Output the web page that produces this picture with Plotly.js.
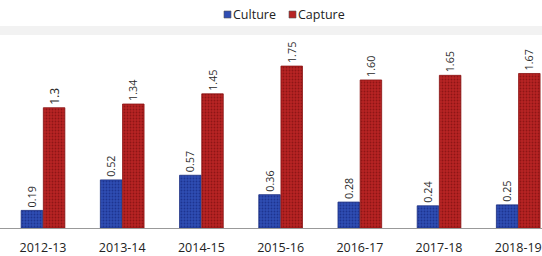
<!DOCTYPE html>
<html>
<head>
<meta charset="utf-8">
<script src="https://cdn.plot.ly/plotly-3.0.1.min.js"></script>
<style>html,body{margin:0;padding:0;background:#fff;}#chart{width:542px;height:256px;}</style>
</head>
<body>
<div id="chart"></div>
<script>
const years = ["2012-13","2013-14","2014-15","2015-16","2016-17","2017-18","2018-19"];
const culture = [0.19,0.52,0.57,0.36,0.28,0.24,0.25];
const capture = [1.3,1.34,1.45,1.75,1.60,1.65,1.67];
const cultureLabels = ["0.19","0.52","0.57","0.36","0.28","0.24","0.25"];
const captureLabels = ["1.3","1.34","1.45","1.75","1.60","1.65","1.67"];
const seriesNames = ["Culture","Capture"];
const seriesColors = ["#2f4db3","#b82424"];

const font = "Open Sans, Liberation Sans, sans-serif";
const W = 542, H = 256, T = 30, B = 28;
const PH = H - T - B;
const px = x => x / W;
const py = y => (H - B - y) / PH;

const traces = [
  {type:"bar", name:seriesNames[0], x:years, y:culture, text:cultureLabels,
   textposition:"outside", textangle:-90, cliponaxis:false,
   textfont:{family:font, size:12, color:"#2a2a2a"},
   marker:{color:seriesColors[0], line:{color:"#1a2d80", width:0.8},
     pattern:{shape:".", bgcolor:seriesColors[0], fgcolor:"#1d3490", size:3, solidity:0.3}}},
  {type:"bar", name:seriesNames[1], x:years, y:capture, text:captureLabels,
   textposition:"outside", textangle:-90, cliponaxis:false,
   textfont:{family:font, size:12, color:"#2a2a2a"},
   marker:{color:seriesColors[1], line:{color:"#8a1212", width:0.8},
     pattern:{shape:".", bgcolor:seriesColors[1], fgcolor:"#8e1515", size:3, solidity:0.3}}}
];

// manual compact legend (positions in pixels converted to paper coords)
const legendItems = [{sx:224, tx:231}, {sx:289, tx:296}];
const shapes = [{type:"rect", xref:"paper", yref:"paper", x0:0, x1:1, y0:py(35), y1:py(26),
    fillcolor:"#f2f2f2", line:{width:0}, layer:"below"}];
const annotations = [];
legendItems.forEach((it, i) => {
  shapes.push({type:"rect", xref:"paper", yref:"paper", x0:px(it.sx), x1:px(it.sx+7),
    y0:py(18), y1:py(11), fillcolor:seriesColors[i], line:{color:"#555", width:0.6}});
  annotations.push({xref:"paper", yref:"paper", x:px(it.tx), y:py(14.5), xanchor:"left", yanchor:"middle",
    text:seriesNames[i], showarrow:false, font:{family:font, size:12.5, color:"#222"}});
});

const layout = {
  width:W, height:H,
  margin:{l:0, r:0, t:T, b:B},
  paper_bgcolor:"#fff", plot_bgcolor:"rgba(0,0,0,0)",
  barmode:"group", bargap:0.44, bargroupgap:0.03,
  font:{family:font, color:"#333"},
  xaxis:{type:"category", range:[-0.543, 6.30], showgrid:false, zeroline:false,
    showline:true, linecolor:"#999", linewidth:1, ticks:"", ticklabelstandoff:8,
    tickfont:{family:font, size:12.5, color:"#222"}},
  yaxis:{range:[0,2.14], showgrid:false, zeroline:false, showticklabels:false, showline:false, fixedrange:true},
  showlegend:false,
  shapes:shapes,
  annotations:annotations
};
Plotly.newPlot("chart", traces, layout, {displayModeBar:false, staticPlot:true});
</script>
</body>
</html>
